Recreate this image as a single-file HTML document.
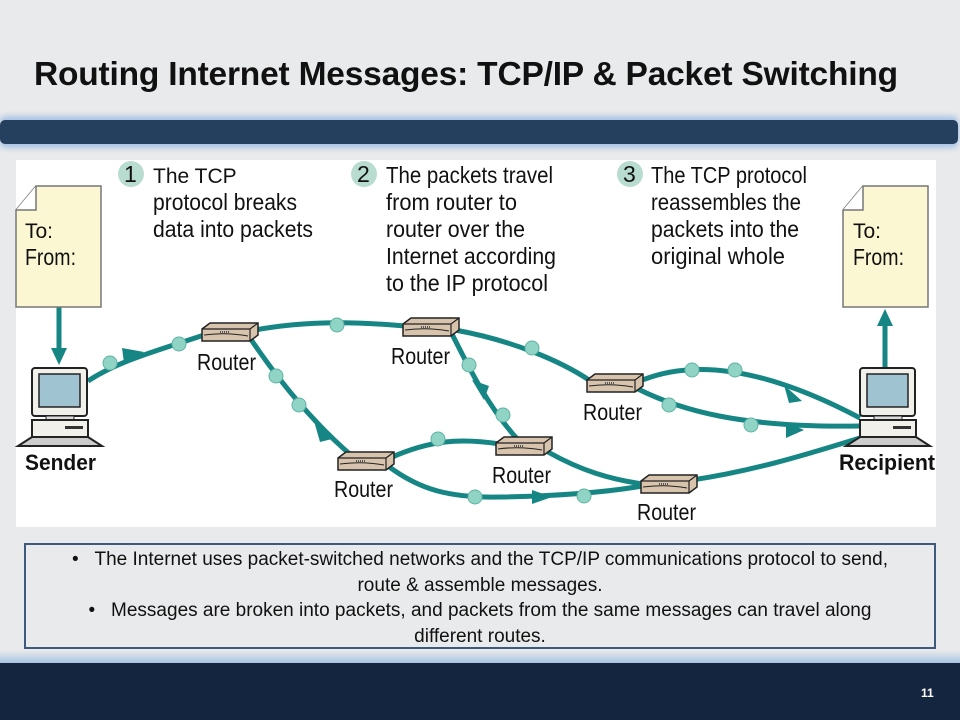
<!DOCTYPE html>
<html><head><meta charset="utf-8"><style>
body{margin:0;width:960px;height:720px;overflow:hidden;background:#e9eaeb;font-family:"Liberation Sans",sans-serif;position:relative}
.title{position:absolute;left:34px;top:56px;font-size:33.5px;font-weight:bold;color:#111;letter-spacing:-0.2px}
.bar{position:absolute;left:0;top:120px;width:958px;height:24px;background:#253f5f;border-radius:5px;box-shadow:0 -4px 6px #a9c4e4,0 4px 6px #a9c4e4}
.panel{position:absolute;left:16px;top:160px;width:920px;height:367px;background:#fff}
.box{position:absolute;left:24px;top:543px;width:912px;height:106px;border:2px solid #3d5a7e;background:#e9eaeb;text-align:center;font-size:19px;line-height:25.5px;color:#111;padding-top:2px;box-sizing:border-box}
.foot{position:absolute;left:0;top:663px;width:960px;height:57px;background:#14263f}
.glow{position:absolute;left:0;top:650px;width:960px;height:13px;background:linear-gradient(#e9eaeb,#a9c3e2)}
.num{position:absolute;left:921px;top:686px;color:#fff;font-size:12px;font-weight:bold}
</style></head><body>
<div class="title">Routing Internet Messages: TCP/IP &amp; Packet Switching</div>
<div class="bar"></div>
<div class="panel"></div>
<svg style="position:absolute;left:0;top:0" width="960" height="720">
<defs>
<g id="rt"><path d="M0 6 L8 0 L56 0 L56 12 L48 18 L0 18 Z" fill="#d8c4ac" stroke="#222" stroke-width="1.5"/><path d="M0 6 L48 6 L56 0 M48 6 L48 18" fill="none" stroke="#222" stroke-width="1.2"/><path d="M2 12 Q24 9 46 13" fill="none" stroke="#222" stroke-width="1"/><path d="M18 9 h10" stroke="#555" stroke-width="2" stroke-dasharray="1 1"/></g>
<g id="pc"><rect x="22" y="8" width="55" height="48" rx="3" fill="#f2f0ea" stroke="#222" stroke-width="2"/><rect x="29" y="14" width="41" height="33" fill="#9fc3d0" stroke="#222" stroke-width="1.5"/><rect x="36" y="56" width="28" height="4" fill="#ddd" stroke="#222"/><rect x="22" y="60" width="56" height="17" fill="#f2f0ea" stroke="#222" stroke-width="2"/><rect x="55" y="66" width="18" height="3" fill="#333"/><path d="M22 77 L78 77 L92 86 L8 86 Z" fill="#ccc" stroke="#222" stroke-width="2"/></g>
<g id="doc"><path d="M20 0 L85 0 L85 121 L0 121 L0 24 Z" fill="#fbf7d2" stroke="#777" stroke-width="1.5"/><path d="M0 24 L20 24 L20 0" fill="#fff" stroke="#777" stroke-width="1.5"/></g>
</defs>
<g fill="none" stroke="#168684" stroke-width="5">
<path d="M88 381 C120 360 160 350 210 333"/>
<path d="M255 330 C310 320 360 322 405 326"/>
<path d="M250 338 C275 375 310 420 352 456"/>
<path d="M455 330 C510 340 560 360 592 382"/>
<path d="M452 334 C470 370 490 410 520 442"/>
<path d="M640 381 C690 360 760 365 860 418"/>
<path d="M638 389 C680 410 740 428 860 426"/>
<path d="M390 458 C430 440 460 438 500 444"/>
<path d="M388 466 C420 490 450 498 500 497 C560 496 610 492 648 485"/>
<path d="M548 452 C580 470 610 480 650 485"/>
<path d="M692 480 C760 470 820 450 860 438"/>
<path d="M59 307 L59 352"/><path d="M885 370 L885 322"/>
</g>
<g fill="#168684">
<path d="M51 348 L67 348 L59 365 Z"/><path d="M877 326 L893 326 L885 309 Z"/>
<path d="M122 348 L144 352 L124 363 Z"/>
<path d="M314 421 L332 439 L320 442 Z"/>
<path d="M472 380 L484 400 L489 386 Z"/>
<path d="M784 385 L802 401 L789 403 Z"/>
<path d="M786 422 L804 430 L786 438 Z"/>
<path d="M532 490 L552 497 L532 504 Z"/>
</g>
<g fill="#8fd4c4" stroke="#5fb3a3" stroke-width="1">
<circle cx="110" cy="363" r="7"/><circle cx="179" cy="344" r="7"/>
<circle cx="337" cy="325" r="7"/>
<circle cx="276" cy="376" r="7"/><circle cx="299" cy="405" r="7"/>
<circle cx="532" cy="348" r="7"/>
<circle cx="469" cy="365" r="7"/><circle cx="503" cy="415" r="7"/>
<circle cx="692" cy="370" r="7"/><circle cx="735" cy="370" r="7"/>
<circle cx="669" cy="405" r="7"/><circle cx="751" cy="425" r="7"/>
<circle cx="438" cy="439" r="7"/>
<circle cx="475" cy="497" r="7"/><circle cx="584" cy="496" r="7"/>
</g>
<use href="#rt" x="202" y="323"/><use href="#rt" x="403" y="318"/><use href="#rt" x="587" y="374"/>
<use href="#rt" x="338" y="452"/><use href="#rt" x="496" y="437"/><use href="#rt" x="641" y="475"/>
<use href="#pc" x="10" y="360"/><use href="#pc" x="838" y="360"/>
<use href="#doc" x="16" y="186"/><use href="#doc" x="843" y="186"/>
<g font-size="23" fill="#111">
<text x="197" y="370" textLength="59" lengthAdjust="spacingAndGlyphs">Router</text><text x="391" y="364" textLength="59" lengthAdjust="spacingAndGlyphs">Router</text><text x="583" y="420" textLength="59" lengthAdjust="spacingAndGlyphs">Router</text>
<text x="334" y="497" textLength="59" lengthAdjust="spacingAndGlyphs">Router</text><text x="492" y="483" textLength="59" lengthAdjust="spacingAndGlyphs">Router</text><text x="637" y="520" textLength="59" lengthAdjust="spacingAndGlyphs">Router</text>
<text x="25" y="238" font-size="21">To:</text><text x="25" y="265" textLength="51" lengthAdjust="spacingAndGlyphs">From:</text>
<text x="853" y="238" font-size="21">To:</text><text x="853" y="265" textLength="51" lengthAdjust="spacingAndGlyphs">From:</text>
</g>
<g font-size="22" font-weight="bold" fill="#111"><text x="25" y="470" textLength="71" lengthAdjust="spacingAndGlyphs">Sender</text><text x="839" y="470" textLength="96" lengthAdjust="spacingAndGlyphs">Recipient</text></g>
<g fill="#b8ddd0"><circle cx="131" cy="174" r="13"/><circle cx="364" cy="174" r="13"/><circle cx="630" cy="174" r="13"/></g>
<g font-size="23" fill="#111">
<text x="124" y="182">1</text><text x="357" y="182">2</text><text x="623" y="182">3</text>
<text x="153" y="183" font-size="21">The TCP</text><text x="153" y="210" textLength="144" lengthAdjust="spacingAndGlyphs">protocol breaks</text><text x="153" y="237" textLength="160" lengthAdjust="spacingAndGlyphs">data into packets</text>
<text x="386" y="183" textLength="167" lengthAdjust="spacingAndGlyphs">The packets travel</text><text x="386" y="210" textLength="131" lengthAdjust="spacingAndGlyphs">from router to</text><text x="386" y="237" textLength="139" lengthAdjust="spacingAndGlyphs">router over the</text><text x="386" y="264" textLength="170" lengthAdjust="spacingAndGlyphs">Internet according</text><text x="386" y="291" textLength="162" lengthAdjust="spacingAndGlyphs">to the IP protocol</text>
<text x="651" y="183" textLength="156" lengthAdjust="spacingAndGlyphs">The TCP protocol</text><text x="651" y="210" textLength="150" lengthAdjust="spacingAndGlyphs">reassembles the</text><text x="651" y="237" textLength="148" lengthAdjust="spacingAndGlyphs">packets into the</text><text x="651" y="264" textLength="134" lengthAdjust="spacingAndGlyphs">original whole</text>
</g>
</svg>
<div class="box">•&nbsp;&nbsp;&nbsp;The Internet uses packet-switched networks and the TCP/IP communications protocol to send,<br>route &amp; assemble messages.<br>•&nbsp;&nbsp;&nbsp;Messages are broken into packets, and packets from the same messages can travel along<br>different routes.</div>
<div class="glow"></div>
<div class="foot"></div>
<div class="num">11</div>
</body></html>
